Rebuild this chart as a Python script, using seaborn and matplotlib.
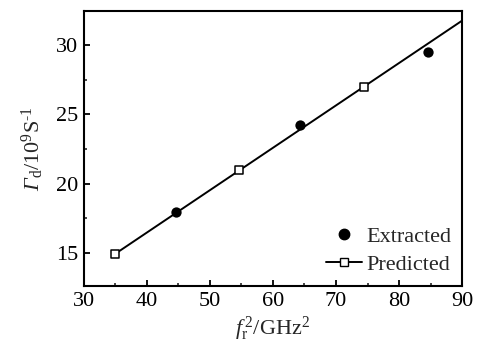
import numpy as np
import pandas as pd
import seaborn as sns
import matplotlib
matplotlib.use("Agg")
import matplotlib.pyplot as plt
from matplotlib.lines import Line2D
from matplotlib.ticker import MultipleLocator

# Data
extracted_x = [44.6, 64.3, 84.5]
extracted_y = [17.95, 24.2, 29.5]
predicted_x = [35.0, 54.7, 74.5]
predicted_y = [14.9, 21.0, 27.0]
fit_x_range = [35.0, 92.0]
x_ticks = [30, 40, 50, 60, 70, 80, 90]
y_ticks = [15, 20, 25, 30]

sns.set_theme(style="ticks")
plt.rcParams["font.family"] = ["Liberation Serif", "DejaVu Serif"]
plt.rcParams["mathtext.fontset"] = "custom"
plt.rcParams["mathtext.rm"] = "Liberation Serif"
plt.rcParams["mathtext.it"] = "Liberation Serif:italic"
plt.rcParams["mathtext.bf"] = "Liberation Serif:bold"
plt.rcParams["axes.linewidth"] = 1.5
plt.rcParams["xtick.direction"] = "in"
plt.rcParams["ytick.direction"] = "in"

fig = plt.figure(figsize=(4.83, 3.48), dpi=100)
ax = fig.add_axes([0.173, 0.178, 0.784, 0.790])

# linear fit through predicted points
coef = np.polyfit(predicted_x, predicted_y, 1)
fit_df = pd.DataFrame({"x": fit_x_range, "y": np.polyval(coef, fit_x_range)})
sns.lineplot(data=fit_df, x="x", y="y", ax=ax, color="black", linewidth=1.4)

ext_df = pd.DataFrame({"x": extracted_x, "y": extracted_y})
sns.scatterplot(data=ext_df, x="x", y="y", ax=ax, color="black", marker="o",
                s=55, edgecolor="black", linewidth=0, zorder=3)

pred_df = pd.DataFrame({"x": predicted_x, "y": predicted_y})
sns.scatterplot(data=pred_df, x="x", y="y", ax=ax, marker="s", s=36,
                facecolor="white", edgecolor="black", linewidth=1.1, zorder=4)

ax.set_xlim(30, 90)
ax.set_ylim(12.6, 32.45)
ax.set_xticks(x_ticks)
ax.set_yticks(y_ticks)
ax.xaxis.set_minor_locator(MultipleLocator(5))
ax.yaxis.set_minor_locator(MultipleLocator(2.5))
ax.tick_params(which="major", length=4, width=1.3, labelsize=16, pad=4,
               top=False, right=False, colors="black")
ax.tick_params(which="minor", length=2.5, width=1.2, top=False, right=False)
for s in ax.spines.values():
    s.set_visible(True)
    s.set_color("black")

ax.set_xlabel(r"$\mathit{f}_\mathrm{r}^{\,2}$/GHz$^2$", fontsize=16, labelpad=3)
ax.set_ylabel(r"Γ$_\mathrm{d}\mathrm{/10^9S^{\text{-}1}}$", fontsize=16,
              labelpad=7, fontstyle="italic")

handles = [
    Line2D([], [], color="black", marker="o", linestyle="none", markersize=7.5),
    Line2D([], [], color="black", marker="s", markerfacecolor="white",
           markeredgecolor="black", markersize=6, linewidth=1.4),
]
ax.legend(handles, ["Extracted", "Predicted"], loc="lower right", frameon=False,
          fontsize=16, handlelength=1.6, handletextpad=0.2, labelspacing=0.35,
          borderaxespad=0.1)

fig.savefig("out.png", dpi=100)
